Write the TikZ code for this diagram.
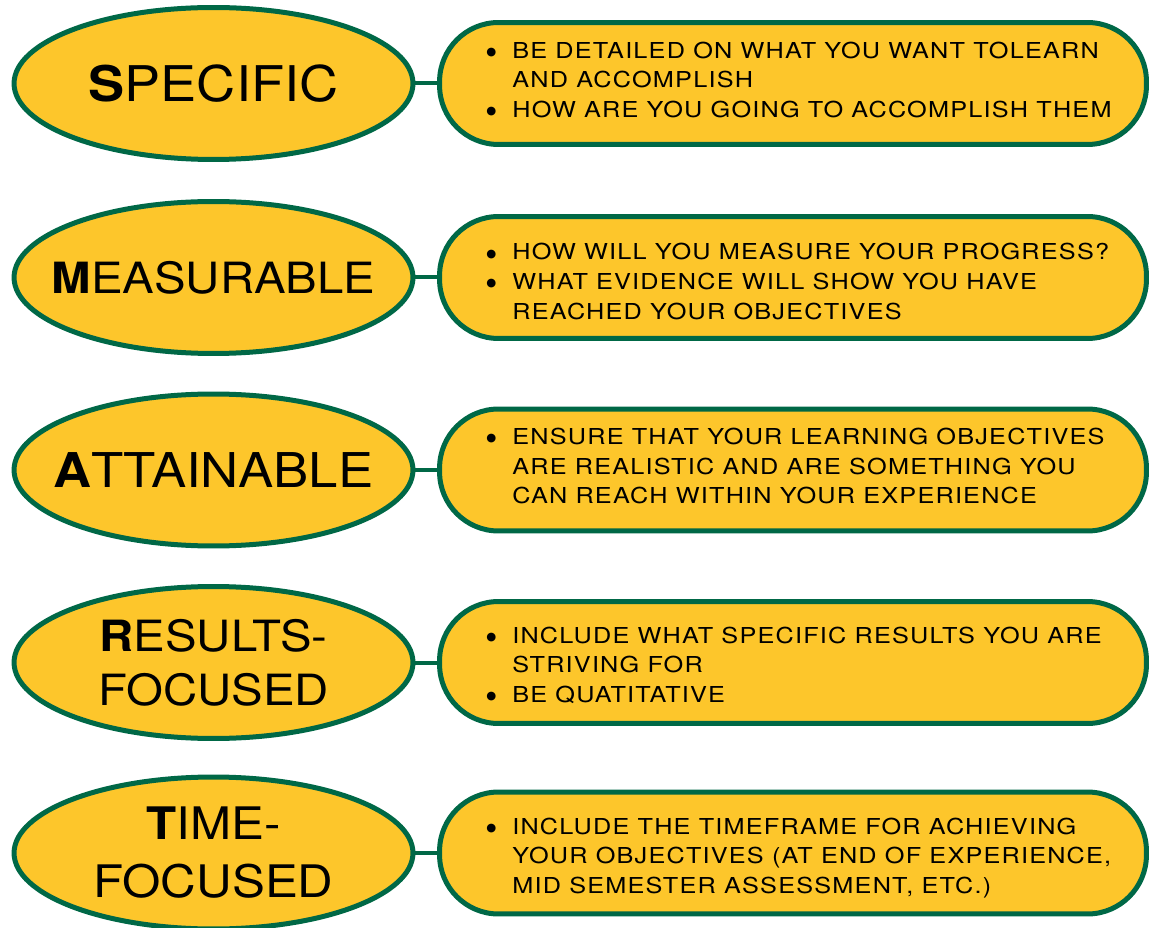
\documentclass[tikz,border=0pt]{standalone}
\usepackage{fontspec}
\setmainfont{TeX Gyre Heros}[FakeStretch=1.1]
\newfontfamily\notefont{TeX Gyre Heros}[FakeStretch=1.15,LetterSpace=5.5]
\newfontfamily\dotfont{DejaVu Sans}
\usetikzlibrary{shapes.geometric}
\definecolor{smartgreen}{RGB}{0,104,70}
\definecolor{smartgold}{RGB}{253,198,43}
\newcommand\blt{\makebox[0.52cm][l]{\raisebox{1.6pt}{\dotfont\fontsize{6.5}{6.5}\selectfont ●}}}
\newcommand\ind{\hspace*{0.52cm}}

\begin{document}
\begin{tikzpicture}[x=0.02cm,y=-0.02cm,
  goal/.style={ellipse,draw=smartgreen,fill=smartgold,line width=0.1cm,
    minimum width=7.98cm,minimum height=3.04cm,inner xsep=-2cm,inner ysep=0pt,align=center},
  detail/.style={rectangle,rounded corners=1.18cm,draw=smartgreen,fill=smartgold,
    line width=0.1cm,minimum width=14.14cm,minimum height=2.44cm},
  note/.style={anchor=west,inner sep=0pt,align=left,
    font=\notefont\fontsize{12.5}{16.8}\selectfont},
  link/.style={draw=smartgreen,line width=0.08cm}]
\useasboundingbox (0,0) rectangle (1151,928);
%\draw[very thin,gray,step=50] (0,0) grid (1151,928);

\node[goal,font=\fontsize{28}{30}\selectfont] (s) at (213.5,83.5) {\textbf{S}PECIFIC};
\node[goal,font=\fontsize{24.5}{30}\selectfont] (m) at (213.5,277.5) {\textbf{M}EASURABLE};
\node[goal,font=\fontsize{27.3}{30}\selectfont] (a) at (213.5,470) {\textbf{A}TTAINABLE};
\node[goal,font=\fontsize{24.5}{30.7}\selectfont] (r) at (213.5,662.5) {\textbf{R}ESULTS-\\FOCUSED};
\node[goal,font=\fontsize{25.5}{33}\selectfont] (t) at (213.5,853) {\textbf{T}IME-\\FOCUSED};

\node[detail] (sb) at (793,83.5) {};
\node[detail] (mb) at (793,277.5) {};
\node[detail] (ab) at (793,470) {};
\node[detail] (rb) at (793,662.5) {};
\node[detail] (tb) at (793,853) {};

\draw[link] (s.east) -- (sb.west);
\draw[link] (m.east) -- (mb.west);
\draw[link] (a.east) -- (ab.west);
\draw[link] (r.east) -- (rb.west);
\draw[link] (t.east) -- (tb.west);

\node[note] (sd) at (486,80) {\blt BE DETAILED ON WHAT YOU WANT TOLEARN\\
  \ind AND ACCOMPLISH\\ \blt HOW ARE YOU GOING TO ACCOMPLISH THEM};
\node[note] (md) at (486,281.5) {\blt HOW WILL YOU MEASURE YOUR PROGRESS?\\
  \blt WHAT EVIDENCE WILL SHOW YOU HAVE\\ \ind REACHED YOUR OBJECTIVES};
\node[note] (ad) at (486,466) {\blt ENSURE THAT YOUR LEARNING OBJECTIVES\\
  \ind ARE REALISTIC AND ARE SOMETHING YOU\\ \ind CAN REACH WITHIN YOUR EXPERIENCE};
\node[note] (rd) at (486,665) {\blt INCLUDE WHAT SPECIFIC RESULTS YOU ARE\\
  \ind STRIVING FOR\\ \blt BE QUATITATIVE};
\node[note] (td) at (486,858) {\blt INCLUDE THE TIMEFRAME FOR ACHIEVING\\
  \ind YOUR OBJECTIVES (AT END OF EXPERIENCE,\\ \ind MID SEMESTER ASSESSMENT, ETC.)};
\end{tikzpicture}
\end{document}
